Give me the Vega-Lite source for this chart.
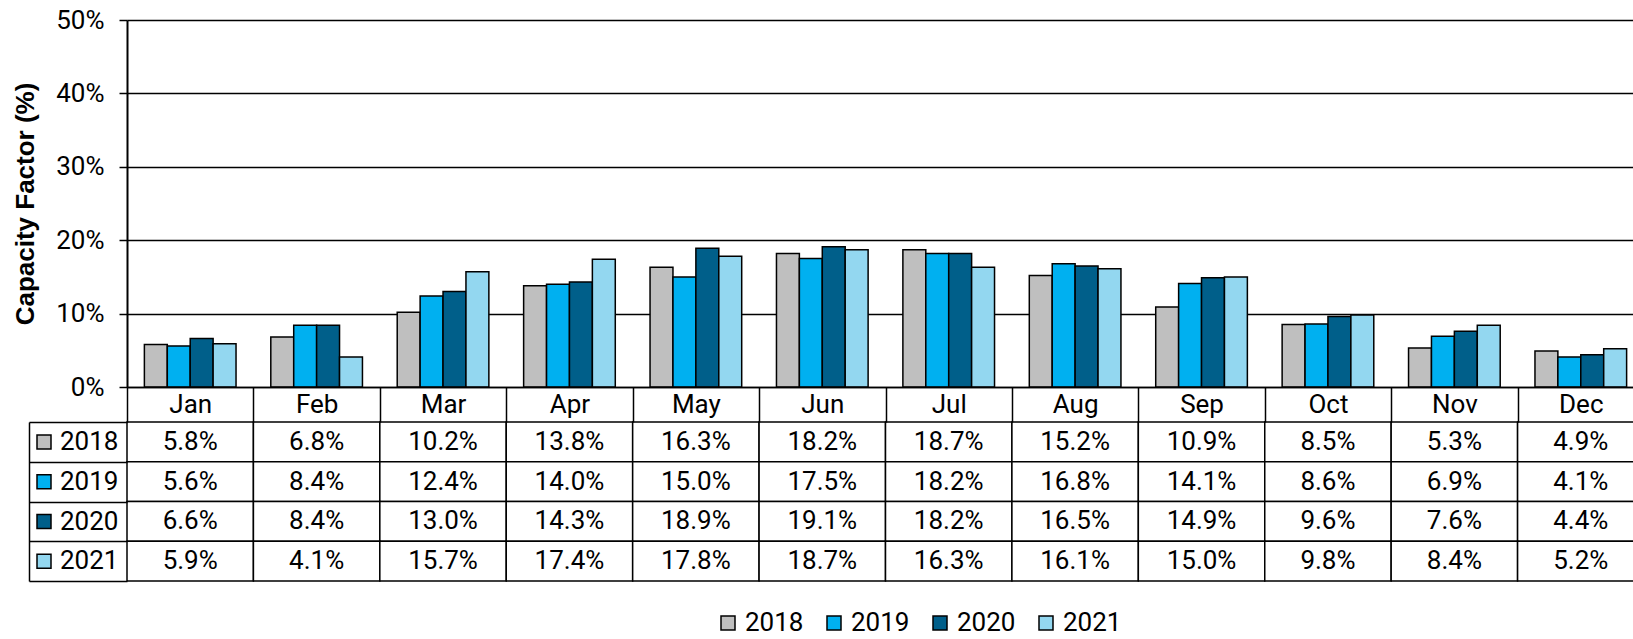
{
  "$schema": "https://vega.github.io/schema/vega-lite/v6.json",
  "width": 1506,
  "height": 619,
  "autosize": {"type": "none"},
  "padding": {"left": 127, "top": 20, "right": 0, "bottom": 0},
  "background": "white",
  "config": {"font": "Roboto", "view": {"stroke": null}},
  "data": {"values": [
    {"month": "Jan", "year": "2018", "value": 0.058}, {"month": "Feb", "year": "2018", "value": 0.068}, {"month": "Mar", "year": "2018", "value": 0.102}, {"month": "Apr", "year": "2018", "value": 0.138}, {"month": "May", "year": "2018", "value": 0.163}, {"month": "Jun", "year": "2018", "value": 0.182}, {"month": "Jul", "year": "2018", "value": 0.187}, {"month": "Aug", "year": "2018", "value": 0.152}, {"month": "Sep", "year": "2018", "value": 0.109}, {"month": "Oct", "year": "2018", "value": 0.085}, {"month": "Nov", "year": "2018", "value": 0.053}, {"month": "Dec", "year": "2018", "value": 0.049},
    {"month": "Jan", "year": "2019", "value": 0.056}, {"month": "Feb", "year": "2019", "value": 0.084}, {"month": "Mar", "year": "2019", "value": 0.124}, {"month": "Apr", "year": "2019", "value": 0.140}, {"month": "May", "year": "2019", "value": 0.150}, {"month": "Jun", "year": "2019", "value": 0.175}, {"month": "Jul", "year": "2019", "value": 0.182}, {"month": "Aug", "year": "2019", "value": 0.168}, {"month": "Sep", "year": "2019", "value": 0.141}, {"month": "Oct", "year": "2019", "value": 0.086}, {"month": "Nov", "year": "2019", "value": 0.069}, {"month": "Dec", "year": "2019", "value": 0.041},
    {"month": "Jan", "year": "2020", "value": 0.066}, {"month": "Feb", "year": "2020", "value": 0.084}, {"month": "Mar", "year": "2020", "value": 0.130}, {"month": "Apr", "year": "2020", "value": 0.143}, {"month": "May", "year": "2020", "value": 0.189}, {"month": "Jun", "year": "2020", "value": 0.191}, {"month": "Jul", "year": "2020", "value": 0.182}, {"month": "Aug", "year": "2020", "value": 0.165}, {"month": "Sep", "year": "2020", "value": 0.149}, {"month": "Oct", "year": "2020", "value": 0.096}, {"month": "Nov", "year": "2020", "value": 0.076}, {"month": "Dec", "year": "2020", "value": 0.044},
    {"month": "Jan", "year": "2021", "value": 0.059}, {"month": "Feb", "year": "2021", "value": 0.041}, {"month": "Mar", "year": "2021", "value": 0.157}, {"month": "Apr", "year": "2021", "value": 0.174}, {"month": "May", "year": "2021", "value": 0.178}, {"month": "Jun", "year": "2021", "value": 0.187}, {"month": "Jul", "year": "2021", "value": 0.163}, {"month": "Aug", "year": "2021", "value": 0.161}, {"month": "Sep", "year": "2021", "value": 0.150}, {"month": "Oct", "year": "2021", "value": 0.098}, {"month": "Nov", "year": "2021", "value": 0.084}, {"month": "Dec", "year": "2021", "value": 0.052}
  ]},
  "layer": [
    {
      "mark": {"type": "bar", "stroke": "black", "strokeWidth": 1.5},
      "encoding": {
        "x": {"field": "month", "type": "nominal", "sort": ["Jan","Feb","Mar","Apr","May","Jun","Jul","Aug","Sep","Oct","Nov","Dec"],
              "scale": {"domain": ["Jan","Feb","Mar","Apr","May","Jun","Jul","Aug","Sep","Oct","Nov","Dec"], "range": [0, 1517], "paddingInner": 0.275, "paddingOuter": 0.1375},
              "axis": null},
        "xOffset": {"field": "year", "type": "nominal", "scale": {"domain": ["2018","2019","2020","2021"], "paddingInner": 0, "paddingOuter": 0}},
        "y": {"field": "value", "type": "quantitative",
              "scale": {"domain": [0, 0.5], "range": [367, 0], "nice": false},
              "axis": {"values": [0, 0.1, 0.2, 0.3, 0.4, 0.5], "format": ".0%", "title": "Capacity Factor (%)",
                       "grid": true, "gridColor": "black", "gridWidth": 1.5, "gridOpacity": 1,
                       "tickSize": 8, "tickColor": "black", "tickWidth": 1.5,
                       "domainColor": "black", "domainWidth": 2,
                       "labelFontSize": 26, "labelColor": "black", "labelPadding": 15,
                       "titleFont": "Liberation Sans", "titleFontSize": 26, "titleFontWeight": "bold", "titleColor": "black", "titlePadding": 17}},
        "color": {"field": "year", "type": "nominal",
                  "scale": {"domain": ["2018","2019","2020","2021"], "range": ["#BFBFBF", "#00B0F0", "#005F8A", "#93D7F0"]},
                  "legend": {"orient": "none", "direction": "horizontal", "legendX": 588, "legendY": 590, "title": null,
                             "symbolType": "square", "symbolSize": 196, "symbolStrokeColor": "black", "symbolStrokeWidth": 1.5,
                             "labelFontSize": 26, "labelColor": "black", "labelOffset": 4, "columnPadding": 17, "padding": 0}}
      }
    },
    {
      "layer": [
        {
          "mark": {"type": "rect", "fill": "white", "stroke": "black", "strokeWidth": 1.5},
          "encoding": {
            "x": {"field": "month", "type": "nominal", "sort": ["Jan","Feb","Mar","Apr","May","Jun","Jul","Aug","Sep","Oct","Nov","Dec"],
                  "scale": {"domain": ["Jan","Feb","Mar","Apr","May","Jun","Jul","Aug","Sep","Oct","Nov","Dec"], "range": [0, 1517], "paddingInner": 0, "paddingOuter": 0},
                  "axis": {"orient": "bottom", "offset": -252, "tickBand": "extent", "tickSize": 35, "tickColor": "black", "tickWidth": 1.5,
                           "domainColor": "black", "domainWidth": 1.5, "labelFontSize": 26, "labelColor": "black",
                           "labelBaseline": "middle", "labelPadding": -17.5, "labelAngle": 0, "title": null, "grid": false}},
            "y": {"field": "year", "type": "nominal",
                  "scale": {"domain": ["2018","2019","2020","2021"], "range": [402, 561], "paddingInner": 0, "paddingOuter": 0},
                  "axis": {"orient": "left", "offset": 98, "tickSize": -98, "tickBand": "extent", "labels": false,
                           "tickColor": "black", "tickWidth": 1.5, "domainColor": "black", "domainWidth": 1.5, "title": null, "grid": false}}
          }
        },
        {
          "mark": {"type": "text", "fontSize": 26, "color": "black"},
          "encoding": {
            "x": {"field": "month", "type": "nominal", "sort": ["Jan","Feb","Mar","Apr","May","Jun","Jul","Aug","Sep","Oct","Nov","Dec"]},
            "y": {"field": "year", "type": "nominal"},
            "text": {"field": "value", "type": "quantitative", "format": ".1%"}
          }
        },
        {
          "mark": {"type": "text", "stroke": "black", "strokeWidth": 1.5},
          "encoding": {
            "y": {"field": "year", "type": "nominal"},
            "text": {"value": ""},
            "color": {"field": "year", "type": "nominal",
                      "scale": {"domain": ["2018","2019","2020","2021"], "range": ["#BFBFBF", "#00B0F0", "#005F8A", "#93D7F0"]},
                      "legend": {"orient": "none", "direction": "vertical", "legendX": -96, "legendY": 409, "title": null,
                                 "symbolType": "square", "symbolSize": 196, "symbolStrokeColor": "black", "symbolStrokeWidth": 1.5, "symbolOpacity": 1,
                                 "labelFontSize": 26, "labelColor": "black", "labelOffset": 3, "rowPadding": 13.75, "padding": 0}}
          }
        }
      ]
    }
  ],
  "resolve": {
    "scale": {"x": "independent", "y": "independent", "color": "independent"},
    "axis": {"x": "independent", "y": "independent"},
    "legend": {"color": "independent"}
  }
}
